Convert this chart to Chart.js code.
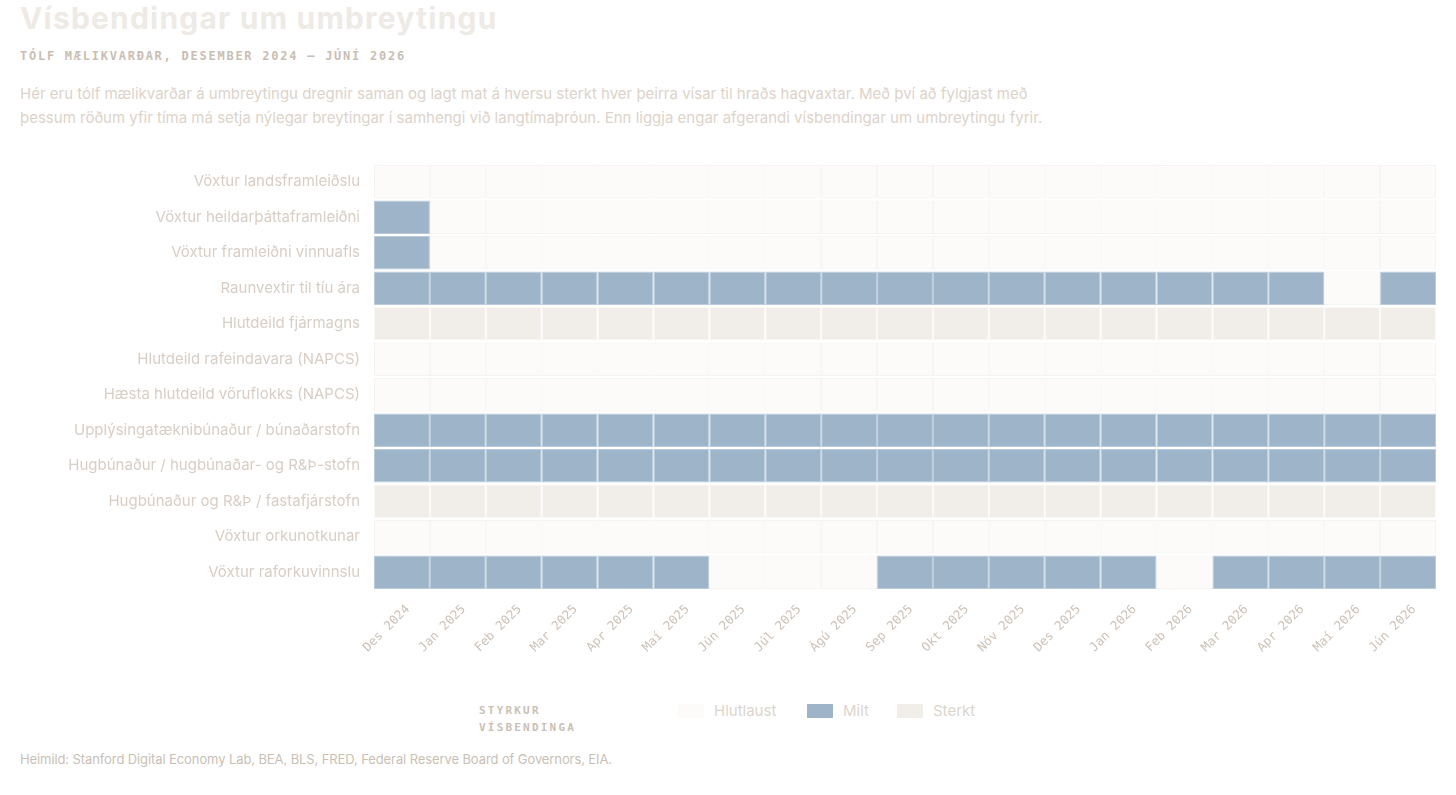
<!DOCTYPE html>
<html lang="is">
<head>
<meta charset="utf-8">
<title>Vísbendingar um umbreytingu</title>
<script src="https://cdn.jsdelivr.net/npm/chart.js@4.4.1/dist/chart.umd.min.js"></script>
<style>
  html, body { margin: 0; padding: 0; background: #ffffff; }
  body { width: 1456px; height: 795px; position: relative; overflow: hidden; font-family: Inter, "Noto Sans", sans-serif; }
  .title { position: absolute; left: 20px; top: 0px; font-size: 30px; font-weight: 700; color: #eeeae6; letter-spacing: 1.2px; }
  .subtitle { position: absolute; left: 20px; top: 49px; font-family: "DejaVu Sans Mono", monospace; font-size: 12px; font-weight: 700; letter-spacing: 1.75px; color: #c9beb3; }
  .desc { position: absolute; left: 20px; top: 82px; font-size: 15px; line-height: 24px; color: #ddd3ca; white-space: nowrap; letter-spacing: 0px; }
  .wrap { position: absolute; left: 0; top: 141px; width: 1456px; height: 549px; }
  .legend { position: absolute; left: 479px; top: 702px; height: 40px; }
  .legend .lt { position: absolute; left: 0; top: 0; font-family: "DejaVu Sans Mono", monospace; font-size: 11px; font-weight: 700; letter-spacing: 2.2px; line-height: 17px; color: #cbc0b5; white-space: nowrap; }
  .legend .item { position: absolute; top: -1px; font-size: 15px; color: #ddd5cd; white-space: nowrap; display: flex; align-items: center; }
  .legend .sw { width: 26px; height: 14px; margin-right: 10px; display: inline-block; }
  .foot { position: absolute; left: 20px; top: 751px; font-size: 13px; color: #c9bfb5; letter-spacing: -0.1px; }
</style>
</head>
<body>
<div class="title">Vísbendingar um umbreytingu</div>
<div class="subtitle">TÓLF MÆLIKVARÐAR, DESEMBER 2024 – JÚNÍ 2026</div>
<div class="desc">Hér eru tólf mælikvarðar á umbreytingu dregnir saman og lagt mat á hversu sterkt hver þeirra vísar til hraðs hagvaxtar. Með því að fylgjast með<br>þessum röðum yfir tíma má setja nýlegar breytingar í samhengi við langtímaþróun. Enn liggja engar afgerandi vísbendingar um umbreytingu fyrir.</div>
<div class="wrap"><canvas id="chart"></canvas></div>
<div class="legend" id="legend"><div class="lt">STYRKUR<br>VÍSBENDINGA</div></div>
<div class="foot">Heimild: Stanford Digital Economy Lab, BEA, BLS, FRED, Federal Reserve Board of Governors, EIA.</div>
<script>
// months (columns) and indicators (rows)
const months = ['Des 2024', 'Jan 2025', 'Feb 2025', 'Mar 2025', 'Apr 2025', 'Maí 2025', 'Jún 2025', 'Júl 2025', 'Ágú 2025',
  'Sep 2025', 'Okt 2025', 'Nóv 2025', 'Des 2025', 'Jan 2026', 'Feb 2026', 'Mar 2026', 'Apr 2026', 'Maí 2026', 'Jún 2026']

const indicators = [
  'Vöxtur landsframleiðslu',
  'Vöxtur heildarþáttaframleiðni',
  'Vöxtur framleiðni vinnuafls',
  'Raunvextir til tíu ára',
  'Hlutdeild fjármagns',
  'Hlutdeild rafeindavara (NAPCS)',
  'Hæsta hlutdeild vöruflokks (NAPCS)',
  'Upplýsingatæknibúnaður / búnaðarstofn',
  'Hugbúnaður / hugbúnaðar- og R&Þ-stofn',
  'Hugbúnaður og R&Þ / fastafjárstofn',
  'Vöxtur orkunotkunar',
  'Vöxtur raforkuvinnslu'
]

// signal strength: 0 = Hlutlaust, 1 = Milt, 2 = Sterkt
const levels = ['Hlutlaust', 'Milt', 'Sterkt']
const fillColors = ['#fdfafa', '#9eb4c9', '#f1ede9']
const edgeColors = ['#f7f3f3', '#b9cbdc', '#fbf9f8']

const gdp          = [0,0,0,0,0,0,0,0,0,0,0,0,0,0,0,0,0,0,0]
const tfp          = [1,0,0,0,0,0,0,0,0,0,0,0,0,0,0,0,0,0,0]
const labourProd   = [1,0,0,0,0,0,0,0,0,0,0,0,0,0,0,0,0,0,0]
const realRates    = [1,1,1,1,1,1,1,1,1,1,1,1,1,1,1,1,1,0,1]
const capitalShare = [2,2,2,2,2,2,2,2,2,2,2,2,2,2,2,2,2,2,2]
const electronics  = [0,0,0,0,0,0,0,0,0,0,0,0,0,0,0,0,0,0,0]
const topProduct   = [0,0,0,0,0,0,0,0,0,0,0,0,0,0,0,0,0,0,0]
const itEquipment  = [1,1,1,1,1,1,1,1,1,1,1,1,1,1,1,1,1,1,1]
const software     = [1,1,1,1,1,1,1,1,1,1,1,1,1,1,1,1,1,1,1]
const softwareRD   = [2,2,2,2,2,2,2,2,2,2,2,2,2,2,2,2,2,2,2]
const energyUse    = [0,0,0,0,0,0,0,0,0,0,0,0,0,0,0,0,0,0,0]
const electricity  = [1,1,1,1,1,1,0,0,0,1,1,1,1,1,0,1,1,1,1]

const grid = [gdp, tfp, labourProd, realRates, capitalShare, electronics, topProduct,
  itEquipment, software, softwareRD, energyUse, electricity]

const textColor = '#d8cec5'
const monoColor = '#cdc2b8'

// one stacked dataset per month, one bar segment per indicator
const datasets = months.map((m, c) => ({
  label: m,
  data: indicators.map(() => 1),
  backgroundColor: grid.map(row => fillColors[row[c]]),
  borderColor: grid.map(row => edgeColors[row[c]]),
  borderWidth: 1,
  borderSkipped: false,
  barPercentage: 0.95,
  categoryPercentage: 1
}))

new Chart(document.getElementById('chart'), {
  type: 'bar',
  data: { labels: indicators, datasets: datasets },
  options: {
    indexAxis: 'y',
    responsive: true,
    maintainAspectRatio: false,
    animation: false,
    events: [],
    layout: { padding: { top: 0, right: 20, bottom: 0, left: 0 } },
    plugins: {
      legend: { display: false },
      tooltip: { enabled: false }
    },
    scales: {
      x: {
        type: 'linear',
        stacked: true,
        min: 0,
        max: months.length,
        grid: { display: false, drawTicks: false },
        border: { display: false },
        afterBuildTicks: scale => {
          scale.ticks = months.map((m, i) => ({ value: i + 0.5 }))
        },
        afterFit: scale => { scale.height = 100 },
        ticks: {
          autoSkip: false,
          minRotation: 45,
          maxRotation: 45,
          padding: 12,
          labelOffset: 6,
          color: monoColor,
          font: { family: '"DejaVu Sans Mono", monospace', size: 12.5 },
          callback: value => months[Math.floor(value)]
        }
      },
      y: {
        stacked: true,
        grid: { display: false, drawTicks: false },
        border: { display: false },
        afterFit: scale => { scale.width = 374 },
        ticks: {
          padding: 14,
          color: textColor,
          font: { family: 'Inter, "Noto Sans", sans-serif', size: 15 }
        }
      }
    }
  }
})

// legend built from the level names and colours
const legend = document.getElementById('legend')
const legendX = [199, 328, 418]
levels.forEach((name, i) => {
  const item = document.createElement('div')
  item.className = 'item'
  item.style.left = legendX[i] + 'px'
  item.innerHTML = '<span class="sw" style="background:' + fillColors[i] + '"></span>' + name
  legend.appendChild(item)
})
</script>
</body>
</html>
